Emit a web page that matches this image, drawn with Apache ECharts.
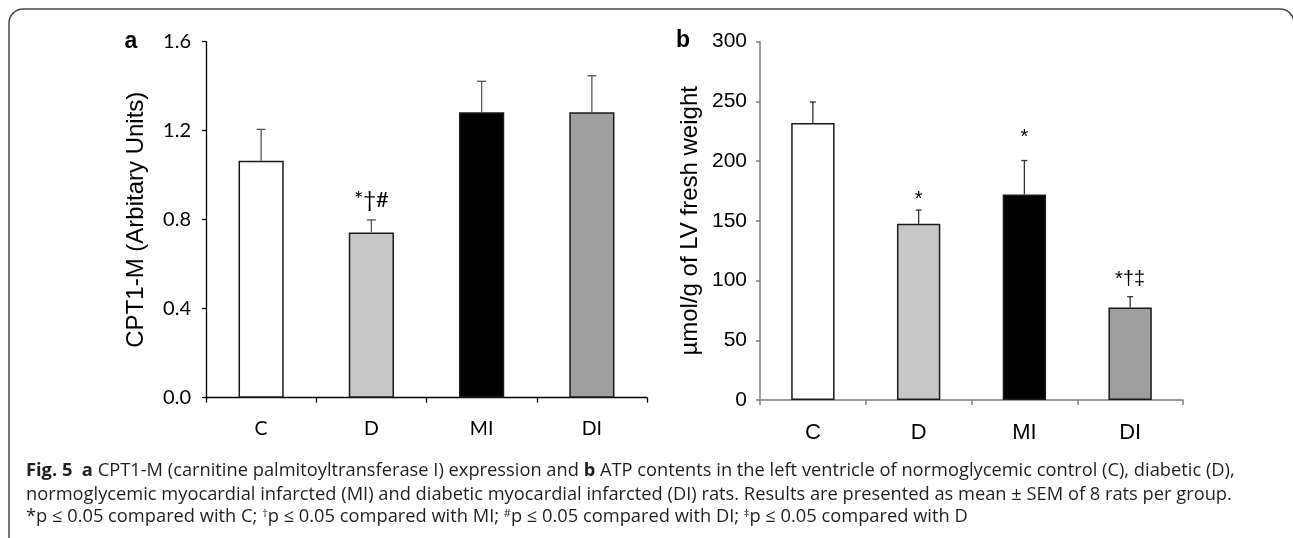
<!DOCTYPE html>
<html><head><meta charset="utf-8">
<script src="https://cdn.jsdelivr.net/npm/echarts@6/dist/echarts.min.js"></script>
<style>html,body{margin:0;padding:0;background:#fff}#c{width:1293px;height:538px}</style>
</head><body><div id="c"></div>
<script>
// ---- data ----
const categories = ['C', 'D', 'MI', 'DI'];
const cptMean  = [1.065, 0.743, 1.283, 1.283];
const cptUpper = [1.206, 0.799, 1.422, 1.447];
const cptSig   = ['', '*†#', '', ''];
const cptSigAt = [null, 0.89, null, null];
const atpMean  = [232, 147.5, 172, 77.5];
const atpUpper = [249.5, 159, 200.5, 86.5];
const atpSig   = ['', '*', '*', '*†‡'];
const atpSigAt = [null, 167.5, 219.6, 101.3];
const cptTickLabels = ['0.0', '0.4', '0.8', '1.2', '1.6'];
const atpTickLabels = ['0', '50', '100', '150', '200', '250', '300'];
const barColors = ['#ffffff', '#c6c7c6', '#000000', '#9e9f9e'];

const chart = echarts.init(document.getElementById('c'), null, {renderer: 'canvas'});

function barSeries(vals, idx, border) {
  return {
    type: 'bar', xAxisIndex: idx, yAxisIndex: idx, barWidth: '41%',
    data: vals.map((v, i) => ({value: v, itemStyle: {color: barColors[i], borderColor: border, borderWidth: 1.5}})),
    silent: true, z: 2
  };
}
function errSeries(mean, upper, idx, color, capHalf) {
  return {
    type: 'custom', xAxisIndex: idx, yAxisIndex: idx, silent: true, z: 3,
    data: upper.map((u, i) => [i, mean[i], u]),
    renderItem: function (params, api) {
      const p0 = api.coord([api.value(0), api.value(1)]);
      const p1 = api.coord([api.value(0), api.value(2)]);
      return {type: 'group', children: [
        {type: 'line', shape: {x1: p0[0], y1: p0[1], x2: p1[0], y2: p1[1]}, style: {stroke: color, lineWidth: 1.3}},
        {type: 'line', shape: {x1: p1[0] - capHalf, y1: p1[1], x2: p1[0] + capHalf, y2: p1[1]}, style: {stroke: color, lineWidth: 1.3}}
      ]};
    }
  };
}
function sigSeries(texts, at, idx, font, size) {
  const d = [];
  texts.forEach((t, i) => { if (t) d.push([i, at[i], t]); });
  return {
    type: 'custom', xAxisIndex: idx, yAxisIndex: idx, silent: true, z: 4,
    data: d,
    renderItem: function (params, api) {
      const p = api.coord([api.value(0), api.value(1)]);
      return {type: 'text', x: p[0], y: p[1], style: {text: d[params.dataIndex][2], fontFamily: font, fontSize: size, fill: '#000', align: 'center', verticalAlign: 'middle'}};
    }
  };
}

const capFont = '"Open Sans", sans-serif';
const capSize = 18.3;
const capText = {fontFamily: capFont, fontSize: capSize, fill: '#231f20'};
const supStyle = {fontSize: 11, verticalAlign: 'top', fontFamily: capFont};

chart.setOption({
  animation: false,
  backgroundColor: '#fff',
  grid: [
    {left: 206, top: 41.7, width: 441, height: 356, outerBoundsMode: 'none'},
    {left: 760, top: 41.7, width: 423, height: 358.3, outerBoundsMode: 'none'}
  ],
  xAxis: [
    {type: 'category', gridIndex: 0, data: categories,
     axisLine: {show: true, lineStyle: {color: '#000', width: 1.3}},
     axisTick: {show: true, length: 5, lineStyle: {color: '#000', width: 1.3}},
     axisLabel: {fontFamily: 'Lato, sans-serif', fontSize: 19.5, color: '#000', margin: 21}},
    {type: 'category', gridIndex: 1, data: categories,
     axisLine: {show: true, lineStyle: {color: '#7f7f7f', width: 1.5}},
     axisTick: {show: true, length: 5, lineStyle: {color: '#7f7f7f', width: 1.5}},
     axisLabel: {fontFamily: '"Liberation Sans", Arial, sans-serif', fontSize: 22, color: '#000', margin: 22}}
  ],
  yAxis: [
    {type: 'value', gridIndex: 0, min: 0, max: 1.6, interval: 0.4,
     splitLine: {show: false},
     axisLine: {show: true, lineStyle: {color: '#000', width: 1.3}},
     axisTick: {show: true, length: 4, lineStyle: {color: '#000', width: 1.3}},
     axisLabel: {fontFamily: 'Lato, sans-serif', fontSize: 20, color: '#000', margin: 15,
                 formatter: (v) => cptTickLabels[Math.round(v / 0.4)]},
     name: 'CPT1-M (Arbitary Units)', nameLocation: 'middle', nameRotate: 90, nameGap: 58,
     nameTextStyle: {fontFamily: '"Liberation Sans", Arial, sans-serif', fontSize: 24, color: '#000'}},
    {type: 'value', gridIndex: 1, min: 0, max: 300, interval: 50,
     splitLine: {show: false},
     axisLine: {show: true, lineStyle: {color: '#7f7f7f', width: 1.5}},
     axisTick: {show: true, length: 4, lineStyle: {color: '#7f7f7f', width: 1.5}},
     axisLabel: {fontFamily: '"Liberation Sans", Arial, sans-serif', fontSize: 21, color: '#000', margin: 13,
                 formatter: (v) => atpTickLabels[Math.round(v / 50)]},
     name: 'µmol/g of LV fresh weight', nameLocation: 'middle', nameRotate: 90, nameGap: 58,
     nameTextStyle: {fontFamily: '"Liberation Sans", Arial, sans-serif', fontSize: 24, color: '#000'}}
  ],
  series: [
    barSeries(cptMean, 0, '#1a1a1a'),
    errSeries(cptMean, cptUpper, 0, '#555', 4.5),
    sigSeries(cptSig, cptSigAt, 0, 'Lato, sans-serif', 22),
    barSeries(atpMean, 1, '#1a1a1a'),
    errSeries(atpMean, atpUpper, 1, '#333', 3),
    sigSeries(atpSig, atpSigAt, 1, '"Liberation Sans", Arial, sans-serif', 20)
  ],
  graphic: [
    {type: 'rect', silent: true, z: -10, shape: {x: 9, y: 9, width: 1285, height: 600, r: 14},
     style: {fill: 'none', stroke: '#4a4a4a', lineWidth: 1.5}},
    {type: 'text', x: 131, y: 42, style: {text: 'a', fontFamily: '"Liberation Sans", Arial, sans-serif', fontWeight: 'bold', fontSize: 23, fill: '#000', align: 'center', verticalAlign: 'middle'}},
    {type: 'text', x: 683, y: 41, style: {text: 'b', fontFamily: '"Liberation Sans", Arial, sans-serif', fontWeight: 'bold', fontSize: 23, fill: '#000', align: 'center', verticalAlign: 'middle'}},
    {type: 'text', x: 26, y: 471, style: Object.assign({}, capText, {verticalAlign: 'middle',
      text: '{b|Fig. 5}  {b|a} CPT1-M (carnitine palmitoyltransferase I) expression and {b|b} ATP contents in the left ventricle of normoglycemic control (C), diabetic (D),',
      rich: {b: {fontWeight: 'bold', fontFamily: capFont, fontSize: capSize}}})},
    {type: 'text', x: 26, y: 494.5, style: Object.assign({}, capText, {verticalAlign: 'middle',
      text: 'normoglycemic myocardial infarcted (MI) and diabetic myocardial infarcted (DI) rats. Results are presented as mean ± SEM of 8 rats per group.'})},
    {type: 'text', x: 26, y: 517, style: Object.assign({}, capText, {verticalAlign: 'middle',
      text: '*p ≤ 0.05 compared with C; {s|†}p ≤ 0.05 compared with MI; {s|#}p ≤ 0.05 compared with DI; {s|‡}p ≤ 0.05 compared with D',
      rich: {s: supStyle}})}
  ]
});
</script>
</body></html>
